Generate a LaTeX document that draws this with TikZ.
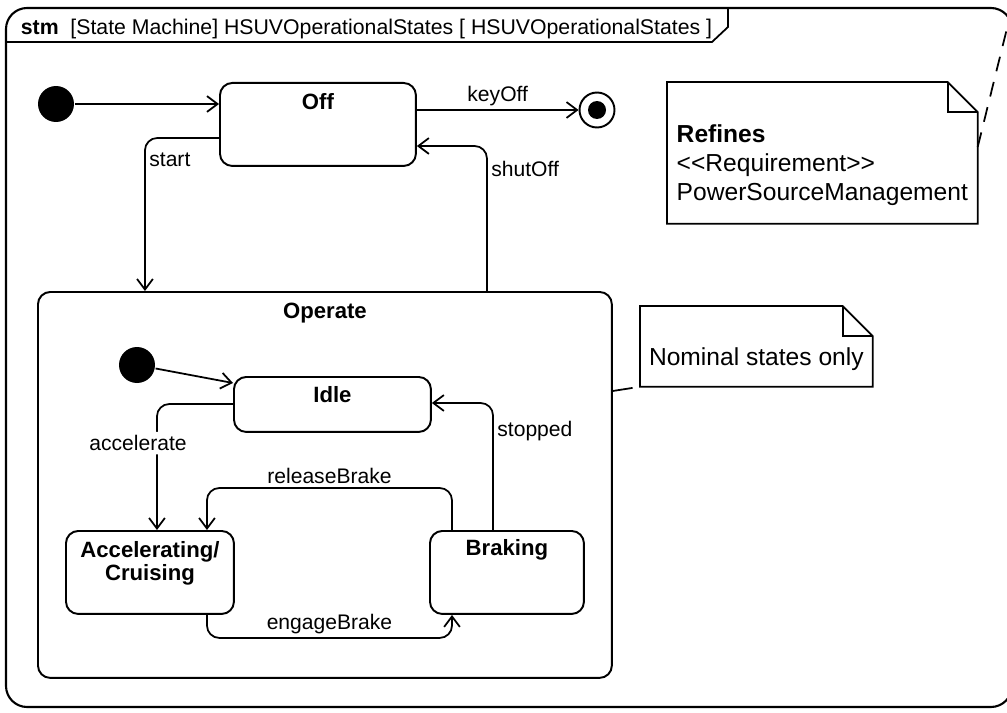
\documentclass[tikz,border=0pt]{standalone}
\usepackage{fontspec}
\setmainfont{Liberation Sans}
\usetikzlibrary{arrows.meta}

\begin{document}
\begin{tikzpicture}[x=0.02cm, y=-0.02cm, line width=1pt,
    trans/.style={-{Straight Barb[length=6pt, width=9pt, line width=1pt]}, rounded corners=7pt},
    lbl/.style={font=\fontsize{12}{14}\selectfont, inner sep=2pt},
    state/.style={draw, line width=1.1pt, rounded corners=7pt, anchor=north west,
      inner sep=0pt, font=\fontsize{12.6}{13}\selectfont\bfseries},
    initial/.style={circle, fill, inner sep=0pt, minimum size=0.72cm},
    final/.style={circle, draw, line width=1.1pt, inner sep=0pt, minimum size=0.7cm,
      path picture={\fill (path picture bounding box.center) circle (0.18cm);}},
    note/.style={anchor=north west, inner sep=0pt, font=\fontsize{14}{16.5}\selectfont}]

  \useasboundingbox (0,0) rectangle (1007,713);

  % Diagram frame and header
  \draw[line width=1.2pt, rounded corners=12pt] (6,8) rectangle (1012,707);
  \draw (6,42) -- (712,42) -- (728,27) -- (728,8);
  \node[anchor=base west, inner sep=0pt, font=\fontsize{12.1}{13}\selectfont] (title) at (20,35)
    {\textbf{stm}\ \ [State Machine] HSUVOperationalStates [ HSUVOperationalStates ]};

  % Top level states
  \node[initial] (init) at (56,104) {};
  \node[state, minimum width=3.92cm, text height=0.54cm, text depth=1.12cm] (off) at (219,82) {Off};
  \node[final] (final) at (597,110) {};
  \node[state, minimum width=11.48cm, text height=0.54cm, text depth=7.18cm] (operate) at (37,291) {Operate};

  % Sub states of Operate
  \node[initial] (initop) at (137,365) {};
  \node[state, minimum width=3.94cm, text height=0.52cm, text depth=0.58cm] (idle) at (233,376) {Idle};
  \node[state, minimum width=3.36cm, text height=0.54cm, text depth=1.12cm] (accel) at (65,530)
    {\begin{tabular}[t]{@{}c@{}}Accelerating/\\Cruising\end{tabular}};
  \node[state, minimum width=3.08cm, text height=0.5cm, text depth=1.16cm] (braking) at (429,530) {Braking};

  % Transitions (top level)
  \draw[trans] (init) -- (init -| off.west);
  \draw[trans] (final -| off.east) -- (final) node[lbl, midway, above] {keyOff};
  \draw[trans] ([yshift=-1.12cm]off.north west) -| ([xshift=2.16cm]operate.north west)
    node[lbl, pos=0.57, right] {start};
  \draw[trans] ([xshift=9cm]operate.north west) |- ([yshift=-1.28cm]off.north east)
    node[lbl, pos=0.42, right] {shutOff};

  % Transitions inside Operate
  \draw[trans] (initop) -- ([yshift=-0.14cm]idle.north west);
  \draw[trans] ([yshift=-0.56cm]idle.north west) -| ([xshift=1.84cm]accel.north west)
    node[lbl, pos=0.655, fill=white, xshift=-0.38cm] {accelerate};
  \draw[trans] ([xshift=1.28cm]braking.north west) |- ([yshift=-0.54cm]idle.north east)
    node[lbl, pos=0.39, right] {stopped};
  \draw[trans] ([xshift=0.46cm]braking.north west) -- ++(0,0.84cm) -| ([xshift=2.84cm]accel.north west)
    node[lbl, pos=0.25, above] {releaseBrake};
  \draw[trans] ([xshift=2.84cm]accel.south west) -- ++(0,-0.46cm) -| ([xshift=0.46cm]braking.south west)
    node[lbl, pos=0.25, above] {engageBrake};

  % Notes
  \node[note, minimum width=6.18cm, text height=1.2cm, text depth=1.6cm] (refines) at (667,82)
    {\begin{tabular}[t]{@{}l@{}}\textbf{Refines}\\<{}<Requirement>{}>\\PowerSourceManagement\end{tabular}};
  \node[note, minimum width=4.62cm, text height=1.18cm, text depth=0.4cm] (nominal) at (640,306)
    {Nominal states only};
  \foreach \n in {refines, nominal} {
    \draw (\n.north west) -- ([xshift=-0.6cm]\n.north east) -- ([yshift=-0.6cm]\n.north east)
      -- (\n.south east) -- (\n.south west) -- cycle;
    \draw ([xshift=-0.6cm]\n.north east) |- ([yshift=-0.6cm]\n.north east);
  }

  % Note anchors
  \coordinate (frameref) at (1012,8);
  \draw[dash pattern=on 0.3cm off 0.22cm] ([yshift=-1.3cm]refines.north east) -- (frameref);
  \draw[shorten >=0.15cm] ([yshift=-2cm]operate.north east) -- (nominal.south west);
\end{tikzpicture}
\end{document}
